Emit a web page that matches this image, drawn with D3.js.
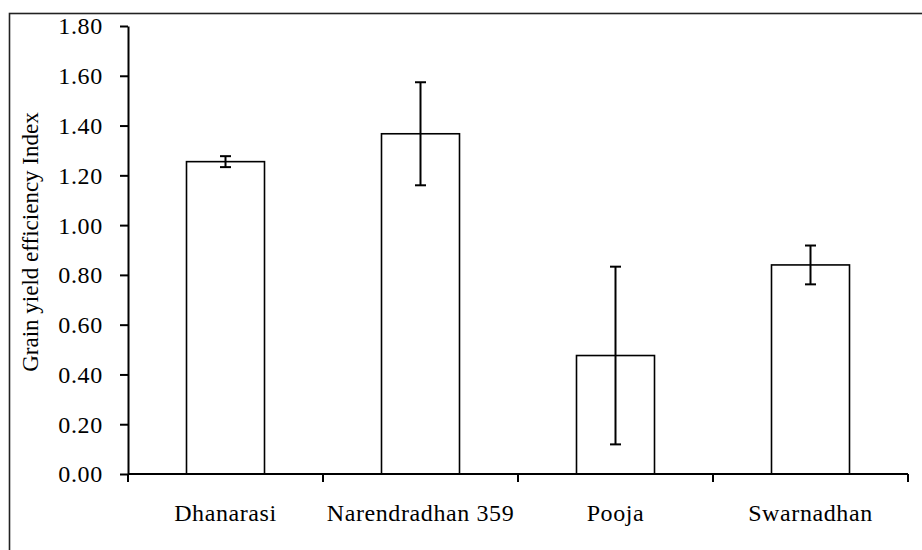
<!DOCTYPE html>
<html lang="en">
<head>
<meta charset="UTF-8">
<title>Grain yield efficiency Index</title>
<script src="https://d3js.org/d3.v7.min.js"></script>
<style>
  html, body { margin: 0; padding: 0; background: #fff; }
  svg { display: block; }
  svg text { font-family: "Liberation Serif", "Times New Roman", Times, "DejaVu Serif", serif !important; fill: #000; }
</style>
</head>
<body>
<div id="chart"></div>
<script>
// data
const varieties = ["Dhanarasi", "Narendradhan 359", "Pooja", "Swarnadhan"];
const meanValues = [1.255, 1.367, 0.476, 0.840];
const errValues = [0.022, 0.207, 0.357, 0.078];
const yTicks = [0, 0.2, 0.4, 0.6, 0.8, 1.0, 1.2, 1.4, 1.6, 1.8];

const W = 922, H = 550;
const margin = { top: 26, right: 14, bottom: 76, left: 128 };
const width = W - margin.left - margin.right,
      height = H - margin.top - margin.bottom;
const serif = "'Liberation Serif', 'Times New Roman', Times, serif";

const svg = d3.select("#chart").append("svg")
    .attr("width", W)
    .attr("height", H)
    .attr("font-family", serif);

// outer chart frame (cut at the right and bottom like the original)
svg.append("rect")
    .attr("x", 9.5).attr("y", 13.5)
    .attr("width", 1000).attr("height", 1000)
    .attr("fill", "none")
    .attr("stroke", "#222")
    .attr("stroke-width", 1.6);

const g = svg.append("g")
    .attr("transform", `translate(${margin.left},${margin.top})`);

const x = d3.scaleBand()
    .domain(varieties)
    .range([0, width])
    .padding(0);

const y = d3.scaleLinear()
    .domain([0, 1.8])
    .range([height, 0]);

const barW = x.bandwidth() * 0.4;

// bars
g.selectAll(".bar")
    .data(varieties)
    .join("rect")
    .attr("class", "bar")
    .attr("x", d => x(d) + x.bandwidth() / 2 - barW / 2)
    .attr("y", (d, i) => y(meanValues[i]))
    .attr("width", barW)
    .attr("height", (d, i) => height - y(meanValues[i]))
    .attr("fill", "#fff")
    .attr("stroke", "#000")
    .attr("stroke-width", 1.6);

// error bars
const capW = 11;
const err = g.selectAll(".err")
    .data(varieties)
    .join("g")
    .attr("class", "err")
    .attr("stroke", "#000")
    .attr("stroke-width", 2);

err.append("line")
    .attr("x1", d => x(d) + x.bandwidth() / 2)
    .attr("x2", d => x(d) + x.bandwidth() / 2)
    .attr("y1", (d, i) => y(meanValues[i] + errValues[i]))
    .attr("y2", (d, i) => y(meanValues[i] - errValues[i]));

err.append("line")
    .attr("x1", d => x(d) + x.bandwidth() / 2 - capW / 2)
    .attr("x2", d => x(d) + x.bandwidth() / 2 + capW / 2)
    .attr("y1", (d, i) => y(meanValues[i] + errValues[i]))
    .attr("y2", (d, i) => y(meanValues[i] + errValues[i]));

err.append("line")
    .attr("x1", d => x(d) + x.bandwidth() / 2 - capW / 2)
    .attr("x2", d => x(d) + x.bandwidth() / 2 + capW / 2)
    .attr("y1", (d, i) => y(meanValues[i] - errValues[i]))
    .attr("y2", (d, i) => y(meanValues[i] - errValues[i]));

// y axis
const yAxis = g.append("g")
    .call(d3.axisLeft(y).tickValues(yTicks).tickFormat(d3.format(".2f"))
        .tickSize(8).tickSizeOuter(0).tickPadding(17));
yAxis.attr("font-family", serif).attr("font-size", 24);
yAxis.select(".domain").attr("stroke-width", 2);
yAxis.selectAll(".tick line").attr("stroke-width", 2);
yAxis.selectAll(".tick text")
    .attr("letter-spacing", 0.7)
    .attr("dy", "0.33em");

// x axis: ticks at category boundaries
const xAxis = g.append("g")
    .attr("transform", `translate(0,${height})`);
xAxis.append("line")
    .attr("x1", 0).attr("x2", width)
    .attr("stroke", "#000").attr("stroke-width", 2);
xAxis.selectAll(".xtick")
    .data(varieties.concat(["end"]))
    .join("line")
    .attr("class", "xtick")
    .attr("x1", (d, i) => i < varieties.length ? x(d) : width)
    .attr("x2", (d, i) => i < varieties.length ? x(d) : width)
    .attr("y1", 0).attr("y2", 8)
    .attr("stroke", "#000").attr("stroke-width", 2);
xAxis.selectAll(".xlabel")
    .data(varieties)
    .join("text")
    .attr("class", "xlabel")
    .attr("x", d => x(d) + x.bandwidth() / 2)
    .attr("y", 47)
    .attr("text-anchor", "middle")
    .attr("font-size", 24)
    .attr("letter-spacing", 0.6)
    .text(d => d);

// y axis title
svg.append("text")
    .attr("transform", `translate(38,${margin.top + height / 2 - 8}) rotate(-90)`)
    .attr("text-anchor", "middle")
    .attr("font-size", 23)
    .text("Grain yield efficiency Index");
</script>
</body>
</html>
